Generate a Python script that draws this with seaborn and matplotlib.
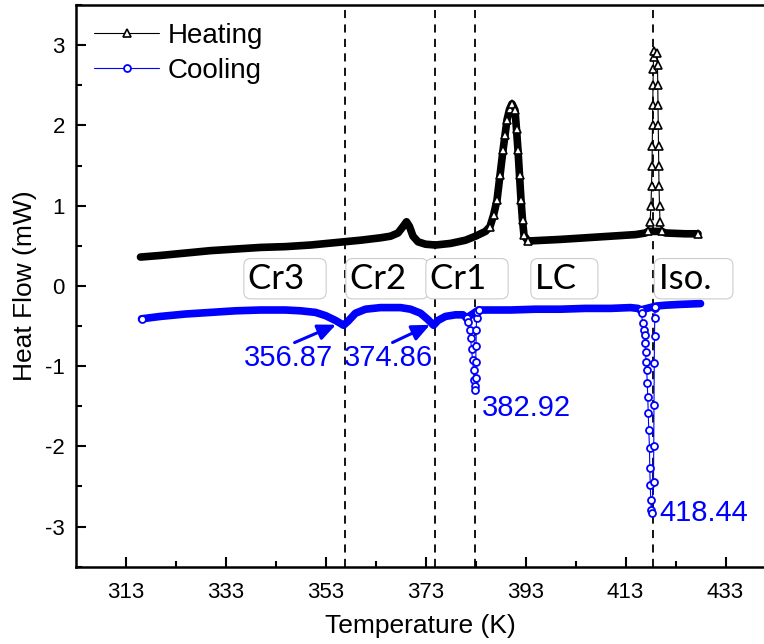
import numpy as np
import matplotlib
matplotlib.use("Agg")
import matplotlib.pyplot as plt
from matplotlib.lines import Line2D
import seaborn as sns

# heating scan (T in K, heat flow in mW)
heat_T = [316.0, 320, 325, 330, 335, 340, 345, 350, 355, 360, 364, 366, 367.5, 368.5,
          369.2, 369.8, 370.5, 371.5, 373, 375, 378, 381, 383, 385, 385.9, 386.6, 387.3,
          387.9, 388.5, 388.9, 389.3, 389.8, 390.3, 390.9, 391.2, 391.5, 391.8, 392.1,
          392.4, 392.7, 393.5, 400, 405, 410, 415, 417.0, 417.5, 417.9, 418.1, 418.2,
          418.3, 418.35, 418.4, 418.45, 418.5, 418.55, 418.6, 418.7, 419.3, 419.4,
          419.45, 419.5, 419.55, 419.6, 419.65, 419.7, 419.8, 419.9, 420.2, 421, 425, 427.5]
heat_HF = [0.36, 0.38, 0.41, 0.44, 0.46, 0.48, 0.49, 0.51, 0.54, 0.57, 0.60, 0.62, 0.66, 0.74,
           0.80, 0.74, 0.62, 0.55, 0.52, 0.51, 0.53, 0.57, 0.62, 0.68, 0.74, 0.88, 1.07,
           1.38, 1.69, 1.88, 2.07, 2.2, 2.27, 2.19, 1.95, 1.69, 1.38, 1.07,
           0.82, 0.63, 0.56, 0.58, 0.60, 0.62, 0.64, 0.66, 0.68, 0.80, 1.0, 1.25,
           1.5, 1.75, 2.0, 2.25, 2.5, 2.7, 2.85, 2.93, 2.9, 2.75,
           2.5, 2.25, 2.0, 1.75, 1.5, 1.25, 1.0, 0.8, 0.68, 0.66, 0.65, 0.65]

# cooling scan
cool_T = [316.2, 320, 325, 330, 335, 340, 345, 348, 351, 353, 355, 356.6, 357.5, 359, 361,
          364, 368, 370, 372, 373.5, 374.6, 375.5, 377, 379, 380.5, 381.2,
          381.5, 381.8, 382.0, 382.2, 382.4, 382.6, 382.75, 382.85, 382.92,
          383.0, 383.05, 383.1, 383.15, 383.2, 383.3, 383.6,
          386, 390, 395, 400, 405, 410, 414, 415.5, 416.0,
          416.2, 416.4, 416.6, 416.8, 416.9, 417.0, 417.1, 417.25, 417.35, 417.45,
          417.55, 417.65, 417.8, 417.85, 417.95, 418.05, 418.15, 418.2,
          418.6, 418.65, 418.7, 418.75, 418.8, 418.85, 418.9, 418.95,
          419.2, 421, 424, 428]
cool_HF = [-0.41, -0.38, -0.35, -0.33, -0.31, -0.30, -0.30, -0.31, -0.33, -0.37, -0.43, -0.49,
           -0.44, -0.34, -0.29, -0.27, -0.27, -0.29, -0.34, -0.42, -0.49, -0.43, -0.38, -0.36,
           -0.36, -0.40,
           -0.45, -0.55, -0.65, -0.78, -0.92, -1.05, -1.17, -1.25, -1.30,
           -1.15, -0.95, -0.75, -0.55, -0.40, -0.32, -0.30,
           -0.30, -0.30, -0.29, -0.29, -0.28, -0.28, -0.27, -0.28, -0.30,
           -0.34, -0.46, -0.55, -0.61, -0.71, -0.82, -0.95, -1.05, -1.21, -1.39,
           -1.59, -1.80, -2.02, -2.27, -2.48, -2.67, -2.79, -2.83,
           -2.44, -2.0, -1.48, -0.96, -0.63, -0.40, -0.28, -0.26,
           -0.25, -0.24, -0.23, -0.22]

transitions = [356.87, 374.86, 382.92, 418.44]
phases = ["Cr3", "Cr2", "Cr1", "LC", "Iso."]
phase_T = [337.5, 357.9, 373.9, 394.9, 419.6]

sns.set_theme(style="ticks")
plt.rcParams['font.family'] = ['Liberation Sans', 'DejaVu Sans']
plt.rcParams['axes.unicode_minus'] = False
plt.rcParams['text.color'] = 'black'
plt.rcParams['axes.labelcolor'] = 'black'

heat_T = np.array(heat_T); heat_HF = np.array(heat_HF)
cool_T = np.array(cool_T); cool_HF = np.array(cool_HF)

fig = plt.figure(figsize=(7.64, 6.44), dpi=100)
ax = fig.add_axes([0.0995, 0.12, 0.9005, 0.872])

# dense parts of the scans look like a solid band of overlapping symbols
heat_band = np.where((heat_T < 417.6) | (heat_T > 420.1), heat_HF, np.nan)
cool_band = np.where((cool_T < 381.3) | ((cool_T > 383.5) & (cool_T < 416.1)) | (cool_T > 419.0),
                     cool_HF, np.nan)
heat_mk = [i for i, t in enumerate(heat_T) if 385 < t < 393.6 or 417.4 < t < 420.3] + [len(heat_T) - 1]
cool_mk = [0] + [i for i, t in enumerate(cool_T) if 381.1 < t < 383.7 or 415.9 < t < 419.1]

sns.lineplot(x=heat_T, y=heat_band, ax=ax, color='black', lw=5.5, sort=False, estimator=None)
sns.lineplot(x=cool_T, y=cool_band, ax=ax, color='blue', lw=5.5, sort=False, estimator=None)
sns.lineplot(x=heat_T, y=heat_HF, ax=ax, color='black', lw=0.8, sort=False, estimator=None,
             marker='^', ms=5.5, mfc='white', mec='black', mew=1.2, markevery=heat_mk)
sns.lineplot(x=cool_T, y=cool_HF, ax=ax, color='blue', lw=0.8, sort=False, estimator=None,
             marker='o', ms=5, mfc='white', mec='blue', mew=1.3, markevery=cool_mk)

for t in transitions:
    ax.axvline(t, color='black', lw=1.3, ls=(0, (4.5, 3.5)), zorder=1)

for name, t in zip(phases, phase_T):
    ax.text(t, 0.09, name + "  ", fontsize=25, family=['Lato', 'DejaVu Sans'], ha='left', va='center',
            color='black',
            bbox=dict(boxstyle='round,pad=0.12,rounding_size=0.2', fc='white', ec='#cccccc', lw=0.8))

arrow = dict(arrowstyle='-|>,head_length=0.9,head_width=0.4', color='blue', lw=2.2)
ax.annotate("", xy=(355.6, -0.47), xytext=(346.3, -0.72), arrowprops=arrow)
ax.annotate("", xy=(374.4, -0.47), xytext=(365.9, -0.72), arrowprops=arrow)
ax.text(345.5, -0.90, "356.87", color='blue', fontsize=21, ha='center', va='center')
ax.text(365.6, -0.90, "374.86", color='blue', fontsize=21, ha='center', va='center')
ax.text(393.1, -1.52, "382.92", color='blue', fontsize=21, ha='center', va='center')
ax.text(428.6, -2.83, "418.44", color='blue', fontsize=21, ha='center', va='center')

ax.set_xlim(303.1, 440.7)
ax.set_ylim(-3.5, 3.5)
ax.set_xticks([313, 333, 353, 373, 393, 413, 433])
ax.set_xticks(np.arange(323, 440, 20), minor=True)
ax.set_yticks([-3, -2, -1, 0, 1, 2, 3])
ax.set_yticks(np.arange(-3.5, 3.6, 1.0), minor=True)
ax.tick_params(which='both', direction='in', width=1.5, labelsize=16, colors='black')
ax.tick_params(which='major', length=7)
ax.tick_params(which='minor', length=4)
ax.tick_params(axis='x', pad=11)
ax.tick_params(axis='y', pad=8)
for s in ['left', 'bottom', 'top']:
    ax.spines[s].set_linewidth(1.8)
    ax.spines[s].set_color('black')
ax.spines['right'].set_visible(False)
ax.set_xlabel("Temperature (K)", fontsize=19, labelpad=8)
ax.set_ylabel("Heat Flow (mW)", fontsize=19, labelpad=6)

handles = [Line2D([], [], color='black', lw=0.8, marker='^', ms=5.5, mfc='white', mec='black', mew=1.2),
           Line2D([], [], color='blue', lw=0.8, marker='o', ms=5, mfc='white', mec='blue', mew=1.3)]
ax.legend(handles, ["Heating", "Cooling"], loc='upper left', frameon=False, fontsize=20,
          handlelength=2.35, handletextpad=0.3, labelspacing=0.3, borderpad=0.3, borderaxespad=0.35,
          numpoints=1)

fig.savefig("out.png", dpi=100)
